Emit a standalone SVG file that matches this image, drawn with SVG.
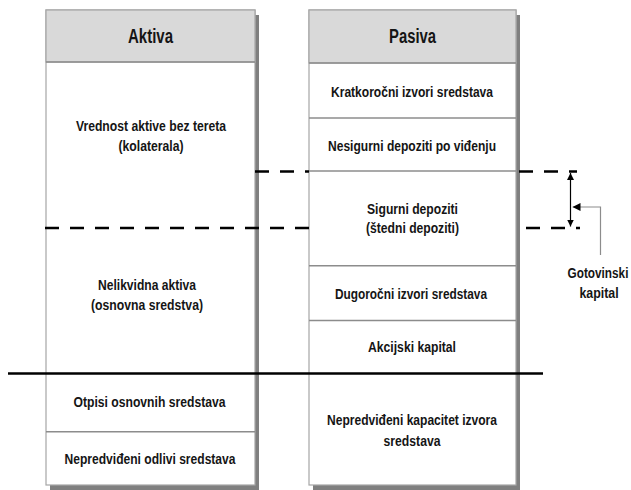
<svg xmlns="http://www.w3.org/2000/svg" width="631" height="490" viewBox="0 0 631 490">
<style>
.shadow{fill:#7f7f7f}
.box{fill:#ffffff;stroke:#a6a6a6;stroke-width:1.2}
.head{fill:#d9d9d9;stroke:#a6a6a6;stroke-width:1.2}
.div{stroke:#8c8c8c;stroke-width:1.5}
.t{font-family:"Liberation Sans Narrow","Liberation Sans",Arial,sans-serif;font-weight:700;font-size:15.5px;fill:#151515;text-anchor:middle}
.h{font-size:20px}
.dash{stroke:#000;stroke-width:2.6;stroke-dasharray:14 11;fill:none}
.solid{stroke:#000;stroke-width:2.6}
.conn{stroke:#8c8c8c;stroke-width:1.2;fill:none}
.arr{stroke:#000;stroke-width:1.2;fill:none}
</style>
<defs>
<marker id="ah" viewBox="0 0 10 10" refX="10" refY="5" markerWidth="7" markerHeight="7" markerUnits="userSpaceOnUse" orient="auto-start-reverse">
<path d="M0,0 L10,5 L0,10 z" fill="#000"/>
</marker>
<marker id="ah2" viewBox="0 0 10 10" refX="10" refY="5" markerWidth="8" markerHeight="8" markerUnits="userSpaceOnUse" orient="auto">
<path d="M0,0 L10,5 L0,10 z" fill="#000"/>
</marker>
</defs>

<g id="aktiva">
<rect class="shadow" x="50" y="15" width="209" height="475"/>
<rect class="box" x="46" y="10" width="209" height="475"/>
<rect class="head" x="46" y="10" width="209" height="52"/>
<line class="div" x1="46" y1="62" x2="255" y2="62"/>
<line class="div" x1="46" y1="431.7" x2="255" y2="431.7"/>
<text class="t h" x="150.5" y="42.5" textLength="45" lengthAdjust="spacingAndGlyphs">Aktiva</text>
<text class="t" x="151" y="131" textLength="150" lengthAdjust="spacingAndGlyphs">Vrednost aktive bez tereta</text>
<text class="t" x="151" y="151" textLength="65" lengthAdjust="spacingAndGlyphs">(kolaterala)</text>
<text class="t" x="147" y="290" textLength="98" lengthAdjust="spacingAndGlyphs">Nelikvidna aktiva</text>
<text class="t" x="147" y="310" textLength="112" lengthAdjust="spacingAndGlyphs">(osnovna sredstva)</text>
<text class="t" x="149.5" y="407" textLength="152" lengthAdjust="spacingAndGlyphs">Otpisi osnovnih sredstava</text>
<text class="t" x="150" y="463.5" textLength="171" lengthAdjust="spacingAndGlyphs">Nepredviđeni odlivi sredstava</text>
</g>

<g id="pasiva">
<rect class="shadow" x="313" y="15" width="207" height="475"/>
<rect class="box" x="309" y="10" width="207" height="475"/>
<rect class="head" x="309" y="10" width="207" height="53"/>
<line class="div" x1="309" y1="63" x2="516" y2="63"/>
<line class="div" x1="309" y1="118" x2="516" y2="118"/>
<line class="div" x1="309" y1="171" x2="516" y2="171"/>
<line class="div" x1="309" y1="265.7" x2="516" y2="265.7"/>
<line class="div" x1="309" y1="320.5" x2="516" y2="320.5"/>
<text class="t h" x="412.5" y="42.5" textLength="47" lengthAdjust="spacingAndGlyphs">Pasiva</text>
<text class="t" x="412" y="96.5" textLength="162" lengthAdjust="spacingAndGlyphs">Kratkoročni izvori sredstava</text>
<text class="t" x="412" y="150.5" textLength="168" lengthAdjust="spacingAndGlyphs">Nesigurni depoziti po viđenju</text>
<text class="t" x="412.5" y="213.5" textLength="91" lengthAdjust="spacingAndGlyphs">Sigurni depoziti</text>
<text class="t" x="412.5" y="233" textLength="93" lengthAdjust="spacingAndGlyphs">(štedni depoziti)</text>
<text class="t" x="411" y="298.5" textLength="152" lengthAdjust="spacingAndGlyphs">Dugoročni izvori sredstava</text>
<text class="t" x="412" y="352" textLength="88" lengthAdjust="spacingAndGlyphs">Akcijski kapital</text>
<text class="t" x="412" y="425" textLength="170" lengthAdjust="spacingAndGlyphs">Nepredviđeni kapacitet izvora</text>
<text class="t" x="412" y="446" textLength="57" lengthAdjust="spacingAndGlyphs">sredstava</text>
</g>

<g id="gotovinski">
<text class="t" transform="translate(598 278.3) scale(0.76 1)">Gotovinski</text>
<text class="t" transform="translate(599 297.7) scale(0.8 1)">kapital</text>
</g>

<g id="connectors">
<line class="dash" x1="255" y1="171.5" x2="309" y2="171.5"/>
<line class="dash" x1="519" y1="171.5" x2="577" y2="171.5"/>
<line class="dash" x1="45" y1="228" x2="309" y2="228"/>
<line class="dash" x1="526" y1="228" x2="580" y2="228"/>
<line class="solid" x1="8" y1="373.5" x2="543" y2="373.5"/>
<line class="arr" x1="570.5" y1="173" x2="570.5" y2="226.5" marker-start="url(#ah)" marker-end="url(#ah)"/>
<polyline class="conn" points="600.5,255 600.5,207 572.5,207" marker-end="url(#ah2)"/>
</g>
</svg>
